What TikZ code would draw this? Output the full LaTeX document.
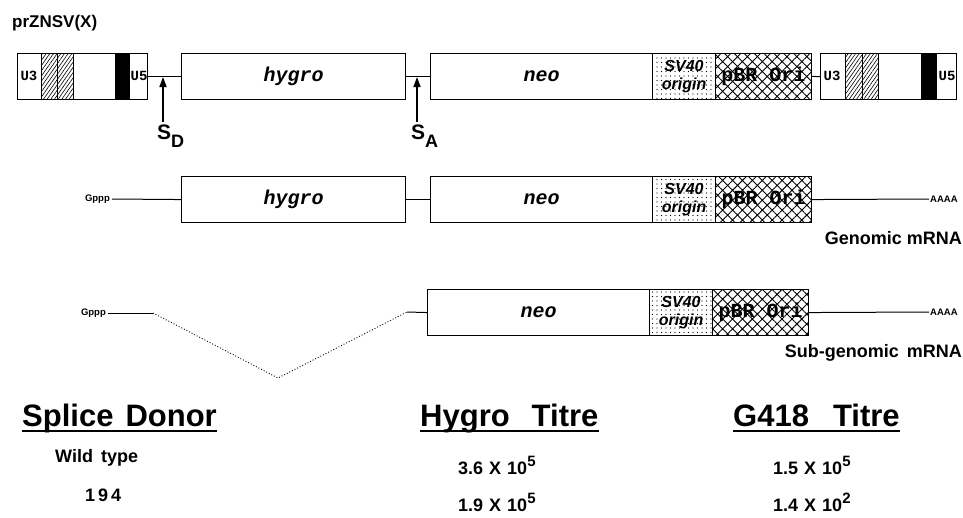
\documentclass[tikz,border=0pt]{standalone}
\usepackage{fontspec}
\setmainfont{Liberation Sans}
\newfontfamily\monof{Liberation Mono}
\usetikzlibrary{patterns.meta,arrows.meta}
\newcommand{\genef}{\fontsize{20}{20}\selectfont\monof\bfseries\itshape}
\newcommand{\svfont}{\fontsize{16}{18}\selectfont\bfseries\itshape}
\newcommand{\pbrfont}{\fontsize{20}{20}\selectfont\monof\bfseries}
\newcommand{\ufont}{\fontsize{14}{14}\selectfont\monof\bfseries}
\newcommand{\smallf}{\fontsize{9.5}{10}\selectfont\bfseries}
\newcommand{\mrnaf}{\fontsize{18}{18}\selectfont\bfseries}
\newcommand{\headf}{\fontsize{31}{31}\selectfont\bfseries}
\newcommand{\dataf}{\fontsize{18}{18}\selectfont\bfseries}
\newcommand{\supf}[1]{\raisebox{8pt}{\fontsize{15}{15}\selectfont #1}}
\begin{document}
\begin{tikzpicture}[x=1pt,y=-1pt,
  box/.style={draw, line width=1.1pt, inner sep=0pt, anchor=north west, minimum height=46pt},
  gene/.style={box, font=\genef},
  svbox/.style={box, minimum width=63pt, font=\svfont, align=center, pattern={Dots[distance=4.5pt,radius=0.55pt]}},
  pbrbox/.style={box, minimum width=96pt, font=\pbrfont, pattern={Hatch[angle=45,distance=7pt,line width=0.9pt]}},
  hatchband/.style={draw, line width=0.8pt, pattern={Lines[angle=55,distance=3pt,line width=0.6pt]}},
  blackband/.style={fill=black},
  ln/.style={line width=1pt},
  lbl/.style={inner sep=0pt},
  arr/.style={line width=1.6pt, -{Triangle[length=10pt,width=7pt]}},
  head/.style={inner sep=0pt, anchor=base west, font=\headf},
  uline/.style={line width=2pt},
  data/.style={inner sep=0pt, anchor=base west, font=\dataf}
]
\useasboundingbox (0,0) rectangle (963,517);

% title
\node[lbl, anchor=base west, font=\fontsize{17}{17}\selectfont\bfseries] (title) at (12,27) {prZNSV(X)};

% ---------- top row: provirus ----------
\node[box, minimum width=130pt] (ltrL) at (17,53) {};
\draw[hatchband] (41,53) rectangle (57,99);
\draw[hatchband] (57,53) rectangle (73,99);
\fill[blackband] (115,53) rectangle (130,99);
\node[lbl, font=\ufont] (u3L) at (29,76) {U3};
\node[lbl, font=\ufont] (u5L) at (139,76) {U5};

\node[gene, minimum width=224pt] (hyg1) at (181,53) {hygro};
\node[gene, minimum width=222pt] (neo1) at (430,53) {neo};
\node[svbox] (sv1) at (652,53) {SV40\\origin};
\node[pbrbox] (pbr1) at (715,53) {pBR Ori};

\node[box, minimum width=136pt] (ltrR) at (820,53) {};
\draw[hatchband] (845,53) rectangle (862,99);
\draw[hatchband] (862,53) rectangle (878,99);
\fill[blackband] (921,53) rectangle (937,99);
\node[lbl, font=\ufont] (u3R) at (832,76) {U3};
\node[lbl, font=\ufont] (u5R) at (947,76) {U5};

\draw[ln] (ltrL.east) -- (hyg1.west);
\draw[ln] (hyg1.east) -- (neo1.west);
\draw[ln] (pbr1.east) -- (ltrR.west);

\coordinate (sdtip) at (163,77);
\coordinate (sdtail) at (163,122);
\draw[arr] (sdtail) -- (sdtip);
\node[lbl, anchor=north west, font=\fontsize{21}{21}\selectfont\bfseries] (sd) at (157,125) {S\raisebox{-8pt}{\fontsize{18}{18}\selectfont D}};

\coordinate (satip) at (417,77);
\coordinate (satail) at (417,122);
\draw[arr] (satail) -- (satip);
\node[lbl, anchor=north west, font=\fontsize{21}{21}\selectfont\bfseries] (sa) at (411,125) {S\raisebox{-8pt}{\fontsize{18}{18}\selectfont A}};

% ---------- genomic mRNA ----------
\node[inner sep=2pt, anchor=east, font=\smallf] (gp2) at (112,199) {Gppp};
\node[gene, minimum width=224pt] (hyg2) at (181,176) {hygro};
\node[gene, minimum width=222pt] (neo2) at (430,176) {neo};
\node[svbox] (sv2) at (652,176) {SV40\\origin};
\node[pbrbox] (pbr2) at (715,176) {pBR Ori};
\node[inner sep=1pt, anchor=west, font=\smallf] (aa2) at (929,199) {AAAA};
\draw[ln] (gp2.east) -- (hyg2.west);
\draw[ln] (hyg2.east) -- (neo2.west);
\draw[ln] (pbr2.east) -- (aa2.west);
\node[lbl, anchor=base east, font=\mrnaf] (gm) at (962,244) {Genomic mRNA};

% ---------- sub-genomic mRNA ----------
\node[inner sep=2pt, anchor=east, font=\smallf] (gp3) at (108,313) {Gppp};
\node[gene, minimum width=222pt] (neo3) at (427,289) {neo};
\node[svbox] (sv3) at (649,289) {SV40\\origin};
\node[pbrbox] (pbr3) at (712,289) {pBR Ori};
\node[inner sep=1pt, anchor=west, font=\smallf] (aa3) at (929,312) {AAAA};
\coordinate (v1) at (153,313);
\coordinate (vb) at (278,378);
\coordinate (v2) at (407,312);
\draw[ln] (gp3.east) -- (v1);
\draw[line width=0.9pt, dotted] (v1) -- (vb) -- (v2);
\draw[ln] (v2) -- (neo3.west);
\draw[ln] (pbr3.east) -- (aa3.west);
\node[lbl, anchor=base east, font=\mrnaf] (sgm) at (962,357) {Sub-genomic\hspace{8pt}mRNA};

% ---------- table ----------
\node[head] (h1) at (22,426) {Splice\hspace{12pt}Donor};
\node[head] (h2) at (420,426) {Hygro\hspace{22pt}Titre};
\node[head] (h3) at (733,426) {G418\hspace{24pt}Titre};
\draw[uline] ([yshift=-5pt]h1.base west) -- ([yshift=-5pt]h1.base east);
\draw[uline] ([yshift=-5pt]h2.base west) -- ([yshift=-5pt]h2.base east);
\draw[uline] ([yshift=-5pt]h3.base west) -- ([yshift=-5pt]h3.base east);

\node[data] (wt) at (55,462) {Wild\hspace{8pt}type};
\node[data] (n194) at (85,501) {1\hspace{3pt}9\hspace{3pt}4};
\node[data] (hy1) at (458,474) {3.6\hspace{6pt}X\hspace{6pt}10\supf{5}};
\node[data] (hy2) at (458,511) {1.9\hspace{6pt}X\hspace{6pt}10\supf{5}};
\node[data] (g1) at (773,474) {1.5\hspace{6pt}X\hspace{6pt}10\supf{5}};
\node[data] (g2) at (773,511) {1.4\hspace{6pt}X\hspace{6pt}10\supf{2}};
\end{tikzpicture}
\end{document}
